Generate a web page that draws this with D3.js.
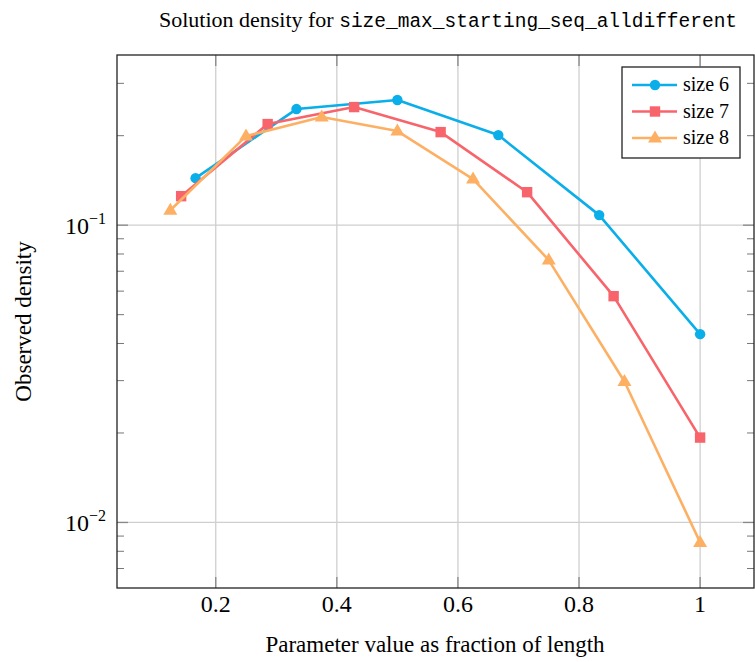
<!DOCTYPE html>
<html>
<head>
<meta charset="utf-8">
<script src="https://cdn.jsdelivr.net/npm/d3@7"></script>
<style>
  body { margin: 0; background: #fff; }
</style>
</head>
<body>
<div id="chart"></div>
<script>
var seriesNames = ['size 6', 'size 7', 'size 8'];
var x6 = [1/6, 2/6, 3/6, 4/6, 5/6, 1];
var y6 = [0.1439, 0.2458, 0.2636, 0.2009, 0.1081, 0.0430];
var x7 = [1/7, 2/7, 3/7, 4/7, 5/7, 6/7, 1];
var y7 = [0.1252, 0.2188, 0.2496, 0.2056, 0.1291, 0.0577, 0.0193];
var x8 = [1/8, 2/8, 3/8, 4/8, 5/8, 6/8, 7/8, 1];
var y8 = [0.1123, 0.1994, 0.2310, 0.2073, 0.1429, 0.0763, 0.0298, 0.00857];
var xTicks = [0.2, 0.4, 0.6, 0.8, 1];
var xTickLabels = ['0.2', '0.4', '0.6', '0.8', '1'];
var yMajor = [0.1, 0.01];
var yMajorExp = ['\u22121', '\u22122'];

document.addEventListener("DOMContentLoaded", function() {
  var width = 755,
      height = 662,
      left = 117, right = 754, top = 55, bottom = 588;
  var serif = '"Liberation Serif", "Times New Roman", serif';

  var svg = d3.select('#chart').append('svg')
    .attr('width', width)
    .attr('height', height)
    .attr('font-family', serif);

  var x = d3.scaleLinear().domain([0.0369, 1.089]).range([left, right]);
  var y = d3.scaleLog().domain([0.00602, 0.3736]).range([bottom, top]);

  var colors = ['#0aaee8', '#f8646b', '#fdb064'];
  var series = [
    { name: seriesNames[0], xs: x6, ys: y6, color: colors[0], shape: 'circle' },
    { name: seriesNames[1], xs: x7, ys: y7, color: colors[1], shape: 'square' },
    { name: seriesNames[2], xs: x8, ys: y8, color: colors[2], shape: 'triangle' }
  ];

  // grid
  svg.append('g').selectAll('line')
    .data(xTicks)
    .enter().append('line')
    .attr('x1', function(d) { return x(d); })
    .attr('x2', function(d) { return x(d); })
    .attr('y1', top).attr('y2', bottom)
    .attr('stroke', '#cfcfcf').attr('stroke-width', 1.3);
  svg.append('g').selectAll('line')
    .data(yMajor)
    .enter().append('line')
    .attr('y1', function(d) { return y(d); })
    .attr('y2', function(d) { return y(d); })
    .attr('x1', left).attr('x2', right)
    .attr('stroke', '#cfcfcf').attr('stroke-width', 1.3);

  // minor y ticks (left and right)
  var minor = [];
  [0.001, 0.01, 0.1].forEach(function(dec) {
    for (var k = 2; k <= 9; k++) {
      var v = dec * k;
      if (v > y.domain()[0] && v < y.domain()[1]) minor.push(v);
    }
  });
  [left, right].forEach(function(edge) {
    var dir = edge === left ? 1 : -1;
    svg.append('g').selectAll('line')
      .data(minor)
      .enter().append('line')
      .attr('x1', edge).attr('x2', edge + dir * 7)
      .attr('y1', function(d) { return y(d); })
      .attr('y2', function(d) { return y(d); })
      .attr('stroke', '#777').attr('stroke-width', 1);
    svg.append('g').selectAll('line')
      .data(yMajor)
      .enter().append('line')
      .attr('x1', edge).attr('x2', edge + dir * 11)
      .attr('y1', function(d) { return y(d); })
      .attr('y2', function(d) { return y(d); })
      .attr('stroke', '#888').attr('stroke-width', 1.3);
  });
  // major x ticks top and bottom
  [top, bottom].forEach(function(edge) {
    var dir = edge === top ? 1 : -1;
    svg.append('g').selectAll('line')
      .data(xTicks)
      .enter().append('line')
      .attr('x1', function(d) { return x(d); })
      .attr('x2', function(d) { return x(d); })
      .attr('y1', edge).attr('y2', edge + dir * 11)
      .attr('stroke', '#888').attr('stroke-width', 1.3);
  });

  // frame
  svg.append('rect')
    .attr('x', left).attr('y', top)
    .attr('width', right - left).attr('height', bottom - top)
    .attr('fill', 'none').attr('stroke', '#222').attr('stroke-width', 1.3);

  // tick labels
  svg.append('g').selectAll('text')
    .data(xTicks)
    .enter().append('text')
    .attr('x', function(d) { return x(d); })
    .attr('y', 612)
    .attr('text-anchor', 'middle')
    .attr('font-size', 24)
    .text(function(d, i) { return xTickLabels[i]; });

  var yl = svg.append('g').selectAll('text')
    .data(yMajor)
    .enter().append('text')
    .attr('x', 106)
    .attr('y', function(d) { return y(d) + 9; })
    .attr('text-anchor', 'end')
    .attr('font-size', 24);
  yl.append('tspan').text('10');
  yl.append('tspan')
    .attr('dy', -10)
    .attr('font-size', 16)
    .text(function(d, i) { return yMajorExp[i]; });

  // lines and markers
  var line = d3.line()
    .x(function(d) { return x(d[0]); })
    .y(function(d) { return y(d[1]); });

  function marker(g, shape, color, cx, cy) {
    if (shape === 'circle') {
      g.append('circle').attr('cx', cx).attr('cy', cy).attr('r', 5.2).attr('fill', color);
    } else if (shape === 'square') {
      g.append('rect').attr('x', cx - 5.2).attr('y', cy - 5.2)
        .attr('width', 10.4).attr('height', 10.4).attr('fill', color);
    } else {
      g.append('path')
        .attr('d', 'M' + cx + ',' + (cy - 7.5) + 'L' + (cx + 7) + ',' + (cy + 4.5) + 'L' + (cx - 7) + ',' + (cy + 4.5) + 'Z')
        .attr('fill', color);
    }
  }

  series.forEach(function(s) {
    var pts = s.xs.map(function(v, i) { return [v, s.ys[i]]; });
    svg.append('path')
      .datum(pts)
      .attr('d', line)
      .attr('fill', 'none')
      .attr('stroke', s.color)
      .attr('stroke-width', 2.6)
      .attr('stroke-linejoin', 'round');
    var g = svg.append('g');
    pts.forEach(function(p) { marker(g, s.shape, s.color, x(p[0]), y(p[1])); });
  });

  // legend
  var lg = svg.append('g');
  lg.append('rect')
    .attr('x', 622).attr('y', 67).attr('width', 118).attr('height', 91)
    .attr('fill', '#fff').attr('stroke', '#222').attr('stroke-width', 1.3);
  series.forEach(function(s, i) {
    var ly = 85 + i * 26.5;
    lg.append('line')
      .attr('x1', 632).attr('x2', 677).attr('y1', ly).attr('y2', ly)
      .attr('stroke', s.color).attr('stroke-width', 2.6);
    marker(lg, s.shape, s.color, 655, ly);
    lg.append('text')
      .attr('x', 683).attr('y', ly + 6)
      .attr('font-size', 20)
      .text(s.name);
  });

  // title and axis labels
  var title = svg.append('text')
    .attr('x', 448).attr('y', 27)
    .attr('text-anchor', 'middle')
    .attr('font-size', 22);
  title.append('tspan').text('Solution density for ');
  title.append('tspan')
    .attr('font-family', '"Liberation Mono", "DejaVu Sans Mono", monospace')
    .attr('font-size', 19.5)
    .text('size_max_starting_seq_alldifferent');

  svg.append('text')
    .attr('x', 435).attr('y', 652)
    .attr('text-anchor', 'middle')
    .attr('font-size', 23)
    .text('Parameter value as fraction of length');

  svg.append('text')
    .attr('transform', 'translate(31,' + (bottom + top) / 2 + ') rotate(-90)')
    .attr('text-anchor', 'middle')
    .attr('font-size', 23)
    .text('Observed density');
});
</script>
</body>
</html>
